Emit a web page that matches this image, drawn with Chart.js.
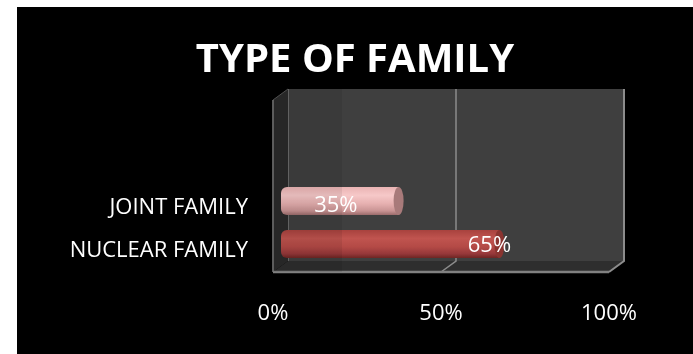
<!DOCTYPE html>
<html>
<head>
<meta charset="utf-8">
<script src="https://cdn.jsdelivr.net/npm/chart.js@4.4.1/dist/chart.umd.min.js"></script>
<style>
  html, body { margin: 0; padding: 0; background: #ffffff; }
  #wrap { position: absolute; left: 17px; top: 7px; width: 676px; height: 347px; background: #000000; }
  canvas { display: block; }
</style>
</head>
<body>
<div id="wrap"><canvas id="c" width="676" height="347"></canvas></div>
<script>
// ---- data ----
const categories = ['JOINT FAMILY', 'NUCLEAR FAMILY'];
const percentages = [35, 65];
const axisTicks = [0, 50, 100];
const chartTitle = 'TYPE OF FAMILY';

// ---- styles ----
const FONT = "'Open Sans', 'Liberation Sans', sans-serif";
const barStyles = [
  { stops: ['#eab4b4', '#f6c8c8', '#e6b0b0', '#c99494', '#9c6c6c'], cap: '#a87a7a' },
  { stops: ['#a8423e', '#c0544f', '#b44a46', '#96383a', '#6e2523'], cap: '#8a3430' }
];
const BAR_PCT = 0.65;

function barGradient(ctx) {
  const chart = ctx.chart;
  const style = barStyles[ctx.dataIndex] || barStyles[0];
  const ys = chart.scales.y;
  if (!ys || !chart.chartArea) return style.stops[1];
  const y = ys.getPixelForValue(ctx.dataIndex);
  const band = Math.abs(ys.getPixelForValue(1) - ys.getPixelForValue(0));
  const h = band * BAR_PCT;
  const g = chart.ctx.createLinearGradient(0, y - h / 2, 0, y + h / 2);
  g.addColorStop(0, style.stops[0]);
  g.addColorStop(0.3, style.stops[1]);
  g.addColorStop(0.6, style.stops[2]);
  g.addColorStop(0.85, style.stops[3]);
  g.addColorStop(1, style.stops[4]);
  return g;
}

const box3d = {
  id: 'box3d',
  beforeDatasetsDraw(chart) {
    const c = chart.ctx;
    const xs = chart.scales.x;
    const B = chart.chartArea.bottom;
    const p0 = xs.getPixelForValue(axisTicks[0]);
    const p50 = xs.getPixelForValue(axisTicks[1]);
    const p100 = xs.getPixelForValue(axisTicks[2]);
    const fx = -8, bx = 7;
    const floorFront = B + 6.5, floorBack = B - 4.5;
    const wallTop = B - 176.5;
    c.save();
    // back wall
    c.fillStyle = '#3f3f3f';
    c.fillRect(p0 + bx, wallTop, (p100 + bx) - (p0 + bx), floorBack - wallTop);
    // left wall
    c.fillStyle = '#2b2b2b';
    c.beginPath();
    c.moveTo(p0 + fx, wallTop + 11);
    c.lineTo(p0 + bx, wallTop);
    c.lineTo(p0 + bx, floorBack);
    c.lineTo(p0 + fx, floorFront);
    c.closePath();
    c.fill();
    // floor
    c.fillStyle = '#2e2e2e';
    c.beginPath();
    c.moveTo(p0 + fx, floorFront);
    c.lineTo(p0 + bx, floorBack);
    c.lineTo(p100 + bx, floorBack);
    c.lineTo(p100 + fx, floorFront);
    c.closePath();
    c.fill();
    // edges
    c.lineCap = 'butt';
    c.strokeStyle = '#6a6a6a';
    c.lineWidth = 1;
    c.beginPath();
    c.moveTo(p0 + bx + 0.5, wallTop);
    c.lineTo(p0 + bx + 0.5, floorBack);
    c.stroke();
    c.strokeStyle = '#555555';
    c.beginPath();
    c.moveTo(p0 + fx, wallTop + 11);
    c.lineTo(p0 + bx, wallTop);
    c.stroke();
    c.strokeStyle = '#7a7a7a';
    c.lineWidth = 1.5;
    c.beginPath();
    c.moveTo(p0 + fx, wallTop + 11);
    c.lineTo(p0 + fx, floorFront);
    c.stroke();
    // 50% gridline
    c.strokeStyle = '#8c8c8c';
    c.lineWidth = 1.5;
    c.beginPath();
    c.moveTo(p50 + bx, wallTop);
    c.lineTo(p50 + bx, floorBack);
    c.lineTo(p50 + fx, floorFront);
    c.stroke();
    // right edge
    c.lineWidth = 2;
    c.beginPath();
    c.moveTo(p100 + bx, wallTop);
    c.lineTo(p100 + bx, floorBack);
    c.lineTo(p100 + fx, floorFront);
    c.stroke();
    // floor front edge
    c.strokeStyle = '#808080';
    c.lineWidth = 2.5;
    c.beginPath();
    c.moveTo(p0 + fx, floorFront);
    c.lineTo(p100 + fx, floorFront);
    c.stroke();
    c.restore();
  },
  afterDatasetsDraw(chart) {
    const c = chart.ctx;
    const meta = chart.getDatasetMeta(0);
    c.save();
    meta.data.forEach((el, i) => {
      const style = barStyles[i] || barStyles[0];
      const h = el.height;
      // end cap of cylinder
      c.fillStyle = style.cap;
      c.beginPath();
      c.ellipse(el.x, el.y, 5, h / 2, 0, 0, Math.PI * 2);
      c.fill();
    });
    // faint shading band on the left part of the plot
    const xs = chart.scales.x;
    const p0 = xs.getPixelForValue(axisTicks[0]);
    const B = chart.chartArea.bottom;
    c.fillStyle = 'rgba(0,0,0,0.07)';
    c.fillRect(p0 - 8, B - 176.5, 69, 183);
    // value labels
    c.fillStyle = '#ffffff';
    c.font = '22px ' + FONT;
    c.textAlign = 'center';
    c.textBaseline = 'middle';
    meta.data.forEach((el, i) => {
      const txt = percentages[i] + '%';
      let x, y;
      if (i === 0) { x = (el.base + el.x) / 2 - 4; y = el.y + 5; }
      else { x = el.x - 10; y = el.y + 2; }
      c.fillText(txt, x, y);
    });
    c.restore();
  }
};

new Chart(document.getElementById('c'), {
  type: 'bar',
  data: {
    labels: categories,
    datasets: [{
      data: percentages,
      backgroundColor: barGradient,
      borderWidth: 0,
      borderSkipped: false,
      borderRadius: { topLeft: 6, bottomLeft: 6, topRight: 0, bottomRight: 0 },
      categoryPercentage: 1,
      barPercentage: BAR_PCT
    }]
  },
  options: {
    indexAxis: 'y',
    responsive: false,
    animation: false,
    devicePixelRatio: 1,
    layout: { padding: 0 },
    plugins: {
      legend: { display: false },
      tooltip: { enabled: false },
      title: {
        display: true,
        text: chartTitle,
        color: '#ffffff',
        font: { family: FONT, size: 40, weight: 'bold', lineHeight: 1.2 },
        padding: { top: 29.5, bottom: 95 }
      }
    },
    scales: {
      x: {
        type: 'linear',
        min: axisTicks[0],
        max: axisTicks[axisTicks.length - 1],
        grid: { display: false, drawTicks: false },
        border: { display: false },
        afterBuildTicks(scale) { scale.ticks = axisTicks.map(v => ({ value: v })); },
        afterFit(scale) { scale.height = 88.5; scale.paddingLeft = 0; scale.paddingRight = 76; },
        ticks: {
          color: '#ffffff',
          font: { family: FONT, size: 22 },
          padding: 35,
          labelOffset: -8,
          maxRotation: 0,
          callback: v => v + '%'
        }
      },
      y: {
        grid: { display: false, drawTicks: false },
        border: { display: false },
        afterFit(scale) { scale.width = 264; scale.paddingTop = 0; scale.paddingBottom = 0; },
        ticks: {
          color: '#ffffff',
          font: { family: FONT, size: 22 },
          padding: 33,
          labelOffset: 7
        }
      }
    }
  },
  plugins: [box3d]
});
</script>
</body>
</html>
